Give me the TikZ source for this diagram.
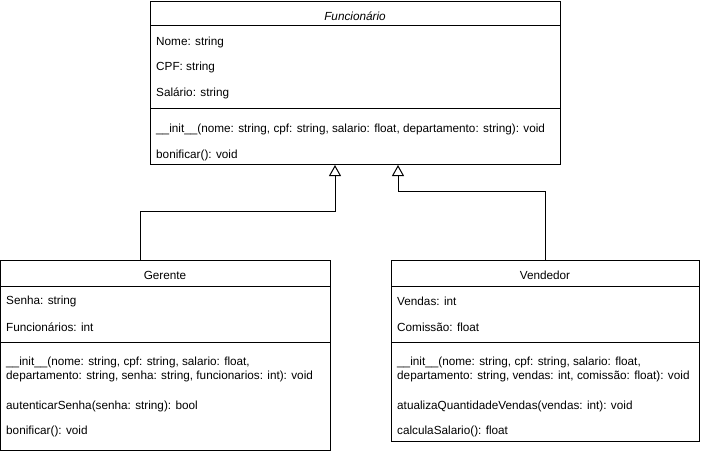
\documentclass[tikz,border=0pt]{standalone}
\usepackage{fontspec}
\setmainfont{Liberation Sans}
\usetikzlibrary{arrows.meta,calc}
\begin{document}
\begin{tikzpicture}[x=1pt,y=-1pt,
  box/.style={draw=black,line width=1pt,fill=white,minimum width=#1,anchor=north west,inner sep=0pt},
  txt/.style={anchor=west,inner sep=0pt,yshift=-2pt,font=\fontsize{11.75}{14}\selectfont},
  ttl/.style={anchor=center,inner sep=0pt,yshift=-2pt,font=\fontsize{11.75}{14}\selectfont},
  sep/.style={draw=black,line width=1pt},
  inh/.style={draw=black,line width=1pt,-{Triangle[open,length=11pt,width=12pt,fill=white]}}]
\useasboundingbox (0,0) rectangle (701,452);
% Funcionario
\node[box=410pt,minimum height=163pt] (func) at (150,1) {};
\draw[sep] (150,26) -- (560,26);
\draw[sep] (150,108) -- (560,108);
\node[ttl] (ft) at (355,14) {\itshape Funcionário};
\node[txt] (f1) at (156,40) {Nome: string};
\node[txt] (f2) at (156,65) {CPF: string};
\node[txt] (f3) at (156,91) {Salário: string};
\node[txt] (f4) at (156,127) {\_\_init\_\_(nome: string, cpf: string, salario: float, departamento: string): void};
\node[txt] (f5) at (156,153) {bonificar(): void};
% Gerente
\node[box=330pt,minimum height=190pt] (ger) at (0,260) {};
\draw[sep] (0,286) -- (330,286);
\draw[sep] (0,342) -- (330,342);
\node[ttl] (gt) at (165,273) {Gerente};
\node[txt] (g1) at (6,299) {Senha: string};
\node[txt] (g2) at (6,325) {Funcionários: int};
\node[txt,align=left] (g3) at (6,367) {\_\_init\_\_(nome: string, cpf: string, salario: float,\\departamento: string, senha: string, funcionarios: int): void};
\node[txt] (g4) at (6,404) {autenticarSenha(senha: string): bool};
\node[txt] (g5) at (6,429) {bonificar(): void};
% Vendedor
\node[box=308pt,minimum height=181pt] (ven) at (391,260) {};
\draw[sep] (391,286) -- (699,286);
\draw[sep] (391,342) -- (699,342);
\node[ttl] (vt) at (545,273) {Vendedor};
\node[txt] (v1) at (397,299) {Vendas: int};
\node[txt] (v2) at (397,325) {Comissão: float};
\node[txt,align=left] (v3) at (397,367) {\_\_init\_\_(nome: string, cpf: string, salario: float,\\departamento: string, vendas: int, comissão: float): void};
\node[txt] (v4) at (397,404) {atualizaQuantidadeVendas(vendas: int): void};
\node[txt] (v5) at (397,429) {calculaSalario(): float};
% inheritance
\draw[inh] ($(ger.north west)+(140,0)$) |- ($(func.south west)+(185,46)$) -- ($(func.south west)+(185,0)$);
\draw[inh] ($(ven.north west)+(154,0)$) |- ($(func.south west)+(248,26)$) -- ($(func.south west)+(248,0)$);
\end{tikzpicture}
\end{document}
